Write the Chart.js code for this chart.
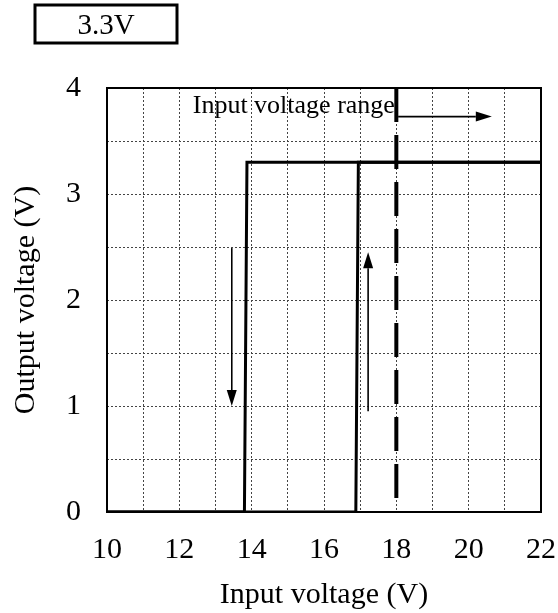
<!DOCTYPE html>
<html>
<head>
<meta charset="utf-8">
<script src="https://cdn.jsdelivr.net/npm/chart.js@4/dist/chart.umd.min.js"></script>
<style>
  html, body { margin: 0; padding: 0; background: #fff; }
  #wrap { width: 558px; height: 613px; }
</style>
</head>
<body>
<div id="wrap"><canvas id="chart" width="558" height="613"></canvas></div>
<script>
// === data ===
const fallX = [22, 13.87, 13.8, 10];     // input falling: output drops to 0
const fallY = [3.3, 3.3, 0, 0];
const riseX = [10, 16.88, 16.95, 22];    // input rising: output jumps to 3.3
const riseY = [0, 0, 3.3, 3.3];
const rangeX = [18, 18];                 // input voltage range limit
const rangeY = [4, 0];

// arrows (start / end in data units)
const arrowFrom = [[18.05, 3.73], [13.45, 2.49], [17.22, 0.95]];
const arrowTo = [[20.64, 3.73], [13.45, 1.0], [17.22, 2.45]];

const rangeLabel = "Input voltage range";
const rangeLabelPos = [17.96, 3.76];
const boxLabel = "3.3V";

const serif = "'Liberation Serif', 'Times New Roman', serif";

function pts(xs, ys) {
  return xs.map((x, i) => ({ x: x, y: ys[i] }));
}

// frame, arrows, annotation text and the 3.3V box
const extras = {
  id: "extras",
  afterDatasetsDraw(chart) {
    const c = chart.ctx;
    const a = chart.chartArea;
    const xs = chart.scales.x, ys = chart.scales.y;
    c.save();

    c.strokeStyle = "#000";
    c.lineWidth = 2;
    c.strokeRect(a.left, a.top, a.right - a.left, a.bottom - a.top);

    c.lineWidth = 1.6;
    c.fillStyle = "#000";
    arrowFrom.forEach((f, i) => {
      const x0 = xs.getPixelForValue(f[0]), y0 = ys.getPixelForValue(f[1]);
      const x1 = xs.getPixelForValue(arrowTo[i][0]), y1 = ys.getPixelForValue(arrowTo[i][1]);
      const ang = Math.atan2(y1 - y0, x1 - x0);
      const len = 16, half = 5;
      const bx = x1 - len * Math.cos(ang), by = y1 - len * Math.sin(ang);
      c.beginPath();
      c.moveTo(x0, y0);
      c.lineTo(bx, by);
      c.stroke();
      c.beginPath();
      c.moveTo(x1, y1);
      c.lineTo(bx + half * Math.sin(ang), by - half * Math.cos(ang));
      c.lineTo(bx - half * Math.sin(ang), by + half * Math.cos(ang));
      c.closePath();
      c.fill();
    });

    c.font = "26px " + serif;
    c.textAlign = "right";
    c.textBaseline = "alphabetic";
    c.fillText(rangeLabel, xs.getPixelForValue(rangeLabelPos[0]), ys.getPixelForValue(rangeLabelPos[1]));

    c.lineWidth = 3;
    c.strokeRect(35, 5, 142, 38);
    c.font = "29px " + serif;
    c.textAlign = "center";
    c.textBaseline = "middle";
    c.fillText(boxLabel, 106, 26);

    c.restore();
  }
};

const gridStyle = { color: "#444", lineWidth: 1, drawTicks: false };

const chart = new Chart(document.getElementById("chart"), {
  type: "scatter",
  data: {
    datasets: [
      { label: "fall", data: pts(fallX, fallY), showLine: true, borderColor: "#000", borderWidth: 3, pointRadius: 0, fill: false },
      { label: "rise", data: pts(riseX, riseY), showLine: true, borderColor: "#000", borderWidth: 3, pointRadius: 0, fill: false },
      { label: "range", data: pts(rangeX, rangeY), showLine: true, borderColor: "#000", borderWidth: 4, borderDash: [34, 13], pointRadius: 0, fill: false }
    ]
  },
  options: {
    responsive: false,
    animation: false,
    events: [],
    layout: { autoPadding: false, padding: { left: 0, top: 88, right: 17, bottom: 0 } },
    plugins: { legend: { display: false }, tooltip: { enabled: false } },
    scales: {
      x: {
        type: "linear", min: 10, max: 22,
        grid: gridStyle,
        border: { display: false, dash: [2, 2] },
        ticks: {
          stepSize: 1, autoSkip: false, maxRotation: 0, padding: 20,
          color: "#000", font: { family: serif, size: 30 },
          callback: v => (v % 2 === 0 ? v : "")
        },
        title: { display: true, text: "Input voltage (V)", color: "#000", font: { family: serif, size: 30 }, padding: { top: 6, bottom: 0 } },
        afterFit: s => { s.height = 101; s.paddingLeft = 0; s.paddingRight = 0; }
      },
      y: {
        type: "linear", min: 0, max: 4,
        grid: gridStyle,
        border: { display: false, dash: [2, 2] },
        ticks: {
          stepSize: 0.5, autoSkip: false, padding: 26,
          color: "#000", font: { family: serif, size: 30 },
          callback: v => (Number.isInteger(v) ? v : "")
        },
        title: { display: true, text: "Output voltage (V)", color: "#000", font: { family: serif, size: 30 }, padding: { top: 8, bottom: 0 } },
        afterFit: s => { s.width = 107; s.paddingTop = 0; s.paddingBottom = 0; }
      }
    }
  },
  plugins: [extras]
});
</script>
</body>
</html>
